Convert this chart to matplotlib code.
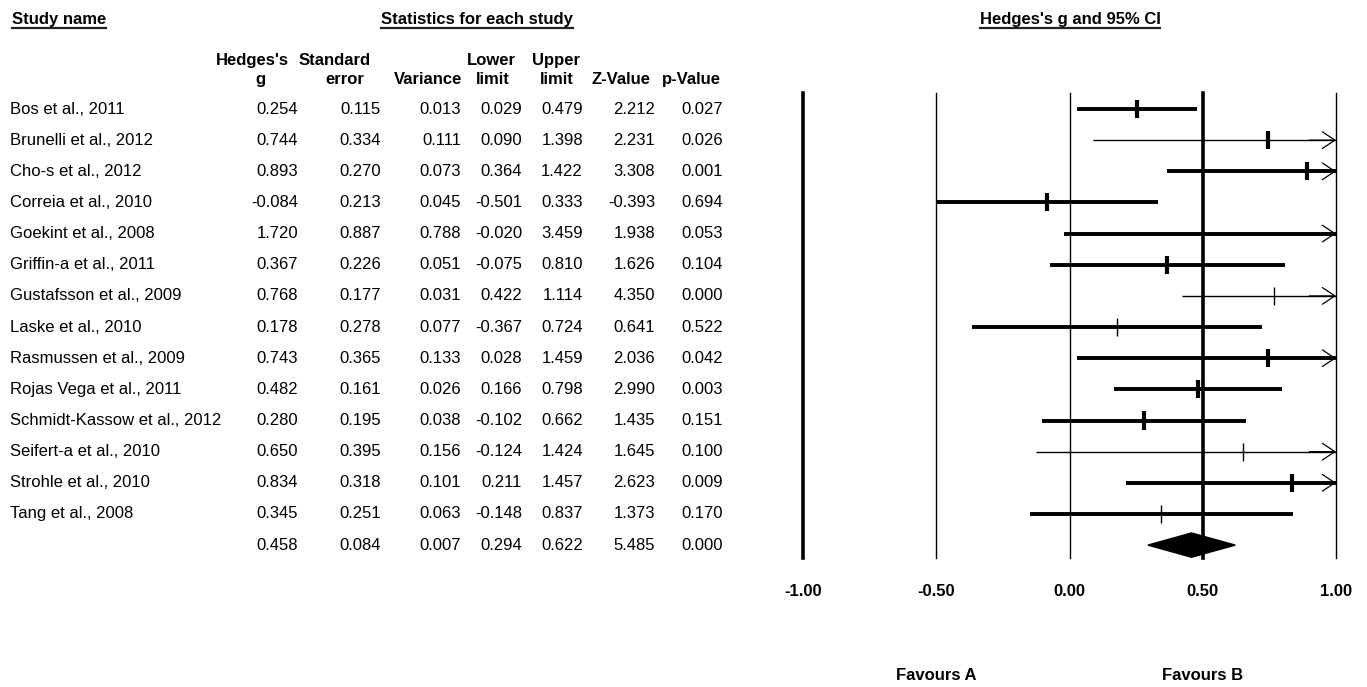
import numpy as np
import matplotlib
matplotlib.use("Agg")
import matplotlib.pyplot as plt
from matplotlib.lines import Line2D
from matplotlib.transforms import blended_transform_factory

plt.rcParams['font.family'] = ['Liberation Sans', 'DejaVu Sans']

# ---- data ----
studies = ["Bos et al., 2011", "Brunelli et al., 2012", "Cho-s et al., 2012",
           "Correia et al., 2010", "Goekint et al., 2008", "Griffin-a et al., 2011",
           "Gustafsson et al., 2009", "Laske et al., 2010", "Rasmussen et al., 2009",
           "Rojas Vega et al., 2011", "Schmidt-Kassow et al., 2012",
           "Seifert-a et al., 2010", "Strohle et al., 2010", "Tang et al., 2008"]
hedges_g = [0.254, 0.744, 0.893, -0.084, 1.720, 0.367, 0.768, 0.178, 0.743, 0.482,
            0.280, 0.650, 0.834, 0.345]
std_err = [0.115, 0.334, 0.270, 0.213, 0.887, 0.226, 0.177, 0.278, 0.365, 0.161,
           0.195, 0.395, 0.318, 0.251]
variance = [0.013, 0.111, 0.073, 0.045, 0.788, 0.051, 0.031, 0.077, 0.133, 0.026,
            0.038, 0.156, 0.101, 0.063]
lower = [0.029, 0.090, 0.364, -0.501, -0.020, -0.075, 0.422, -0.367, 0.028, 0.166,
         -0.102, -0.124, 0.211, -0.148]
upper = [0.479, 1.398, 1.422, 0.333, 3.459, 0.810, 1.114, 0.724, 1.459, 0.798,
         0.662, 1.424, 1.457, 0.837]
z_value = [2.212, 2.231, 3.308, -0.393, 1.938, 1.626, 4.350, 0.641, 2.036, 2.990,
           1.435, 1.645, 2.623, 1.373]
p_value = [0.027, 0.026, 0.001, 0.694, 0.053, 0.104, 0.000, 0.522, 0.042, 0.003,
           0.151, 0.100, 0.009, 0.170]
summary = [0.458, 0.084, 0.007, 0.294, 0.622, 5.485, 0.000]

x_ticks = [-1.0, -0.5, 0.0, 0.5, 1.0]
x_tick_labels = ["-1.00", "-0.50", "0.00", "0.50", "1.00"]

# rows drawn with thin lines / thin point marks in the original
thin_ci = ["Brunelli et al., 2012", "Gustafsson et al., 2009", "Seifert-a et al., 2010"]
thin_mark = ["Gustafsson et al., 2009", "Laske et al., 2010",
             "Seifert-a et al., 2010", "Tang et al., 2008"]

W, H = 1367, 687
fig = plt.figure(figsize=(W / 100, H / 100), dpi=100)

def fx(px):
    return px / W

def fy(py):
    return 1 - py / H

# forest plot axes (pixel box 803..1336 x 93..558)
row0, step = 109, 31.15
top_px, bot_px = 93, 558
ax = fig.add_axes([fx(803), fy(bot_px), fx(1336) - fx(803), (bot_px - top_px) / H])
ax.set_xlim(-1, 1)
ax.set_ylim((bot_px - row0) / step, (top_px - row0) / step)
for s in ax.spines.values():
    s.set_visible(False)
ax.set_yticks([])
ax.set_xticks(x_ticks)
ax.set_xticklabels(x_tick_labels, fontsize=12, fontweight='bold')
ax.tick_params(axis='x', length=0, pad=19)

for xv in x_ticks:
    lw = 2.6 if xv in (-1.0, 0.5) else 1.0
    ax.axvline(xv, color='black', lw=lw, zorder=1, clip_on=False)

n = len(studies)
for i in range(n):
    name = studies[i]
    lo = max(lower[i], -1.0)
    hi = min(upper[i], 1.0)
    ci_lw = 1.0 if name in thin_ci else 2.8
    ax.plot([lo, hi], [i, i], color='black', lw=ci_lw, solid_capstyle='butt',
            zorder=3, clip_on=False)
    if upper[i] > 1.0:
        ax.annotate('', xy=(1.0, i), xytext=(0.9, i),
                    arrowprops=dict(arrowstyle='->,head_length=0.45,head_width=0.3',
                                    lw=0.9, color='black', shrinkA=0, shrinkB=0,
                                    mutation_scale=20), zorder=4)
    if -1.0 <= hedges_g[i] <= 1.0:
        mk_lw = 1.0 if name in thin_mark else 3.0
        ax.plot([hedges_g[i], hedges_g[i]], [i - 0.29, i + 0.29], color='black',
                lw=mk_lw, solid_capstyle='butt', zorder=4)

# summary diamond
g_s, lo_s, hi_s = summary[0], summary[3], summary[4]
ax.fill([lo_s, g_s, hi_s, g_s], [n, n - 0.39, n, n + 0.39], color='black', zorder=5)

fav_tr = blended_transform_factory(ax.transData, ax.transAxes)
ax.text(-0.5, (bot_px - 675) / (bot_px - top_px), "Favours A", transform=fav_tr,
        ha='center', va='center', fontsize=12, fontweight='bold')
ax.text(0.5, (bot_px - 675) / (bot_px - top_px), "Favours B", transform=fav_tr,
        ha='center', va='center', fontsize=12, fontweight='bold')

# table columns
row_tr = blended_transform_factory(fig.transFigure, ax.transData)
columns = [hedges_g, std_err, variance, lower, upper, z_value, p_value]
right_px = [298, 381, 461, 522, 583, 655, 723]
for i in range(n):
    fig.text(fx(10), i, studies[i], transform=row_tr, ha='left', va='center', fontsize=12)
    for col, rx in zip(columns, right_px):
        fig.text(fx(rx), i, f"{col[i]:.3f}", transform=row_tr, ha='right',
                 va='center', fontsize=12)
for val, rx in zip(summary, right_px):
    fig.text(fx(rx), n, f"{val:.3f}", transform=row_tr, ha='right', va='center', fontsize=12)

# column headers (two lines)
hdr1 = [("Hedges's", 252), ("Standard", 335), ("Lower", 491), ("Upper", 556)]
hdr2 = [("g", 260), ("error", 345), ("Variance", 428), ("limit", 493),
        ("limit", 557), ("Z-Value", 621), ("p-Value", 691)]
for txt, cx in hdr1:
    fig.text(fx(cx), fy(65), txt, ha='center', va='baseline', fontsize=12, fontweight='bold')
for txt, cx in hdr2:
    fig.text(fx(cx), fy(84), txt, ha='center', va='baseline', fontsize=12, fontweight='bold')

# underlined section titles
titles = [fig.text(fx(12), fy(24), "Study name", ha='left', va='baseline',
                   fontsize=12, fontweight='bold'),
          fig.text(fx(477), fy(24), "Statistics for each study", ha='center', va='baseline',
                   fontsize=12, fontweight='bold'),
          fig.text(fx(1070), fy(24), "Hedges's g and 95% CI", ha='center', va='baseline',
                   fontsize=12, fontweight='bold')]
fig.canvas.draw()
r = fig.canvas.get_renderer()
for t in titles:
    bb = t.get_window_extent(r)
    fig.add_artist(Line2D([bb.x0 / W, bb.x1 / W], [fy(28), fy(28)], color='#222222', lw=1.6))

fig.savefig("out.png", dpi=100)
